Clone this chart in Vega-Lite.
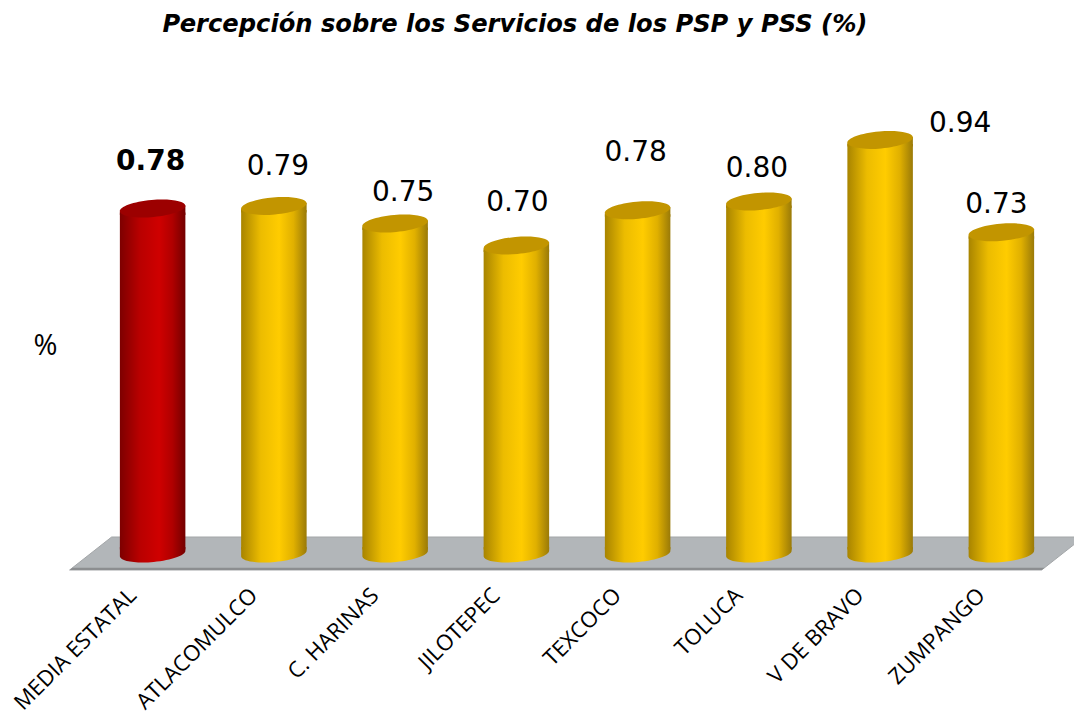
{
"$schema":"https://vega.github.io/schema/vega-lite/v6.json",
"width":970,"height":440,
"autosize":{"type":"none"},
"padding":{"left":92,"top":113.5,"right":12,"bottom":163.5},
"background":"white",
"view":{"stroke":null},
"title":{"text":"Percepción sobre los Servicios de los PSP y PSS (%)","anchor":"middle","frame":"group","dx":-62,"offset":73,"font":"DejaVu Sans","fontSize":24.2,"fontWeight":"bold","fontStyle":"italic","color":"#000000"},
"data":{"values":[
{"municipio":"MEDIA ESTATAL","valor":0.784,"grupo":"media"},
{"municipio":"ATLACOMULCO","valor":0.79,"grupo":"region"},
{"municipio":"C. HARINAS","valor":0.75,"grupo":"region"},
{"municipio":"JILOTEPEC","valor":0.70,"grupo":"region"},
{"municipio":"TEXCOCO","valor":0.78,"grupo":"region"},
{"municipio":"TOLUCA","valor":0.80,"grupo":"region"},
{"municipio":"V DE BRAVO","valor":0.94,"grupo":"region"},
{"municipio":"ZUMPANGO","valor":0.73,"grupo":"region"}
]},
"encoding":{
"x":{"field":"municipio","type":"nominal","scale":{"domain":["MEDIA ESTATAL","ATLACOMULCO","C. HARINAS","JILOTEPEC","TEXCOCO","TOLUCA","V DE BRAVO","ZUMPANGO"],"paddingInner":0,"paddingOuter":0},"axis":{"title":null,"domain":false,"ticks":false,"labelAngle":-45,"labelAlign":"right","labelBaseline":"middle","labelFont":"Open Sans","labelFontSize":22,"labelColor":"#000000","labelPadding":38,"labelOffset":-20}},
"y":{"field":"valor","type":"quantitative","scale":{"domain":[0,1]},"axis":{"title":"%","titleAngle":0,"titleX":-47,"titleY":247,"titleFont":"Open Sans","titleFontSize":29,"titleFontWeight":"normal","titleColor":"#000000","domain":false,"ticks":false,"labels":false,"grid":false}}
},
"layer":[
{"transform":[{"filter":"datum.municipio=='TEXCOCO'"}],
 "mark":{"type":"point","filled":true,"opacity":1,"size":4,"fill":"#b2b6b9","stroke":"#a3a6a8","strokeWidth":1,"shape":"M-568,16.5 L404,16.5 L446,-16.5 L-526,-16.5 Z"},
 "encoding":{"y":{"datum":0}}},
{"transform":[{"filter":"datum.municipio=='TEXCOCO'"}],
 "mark":{"type":"point","filled":true,"opacity":1,"size":4,"fill":"#8c8e90","strokeWidth":0,"shape":"M-568,16.5 L404,16.5 L407,14.2 L-565,14.2 Z"},
 "encoding":{"y":{"datum":0}}},
{"mark":{"type":"bar","width":65.5,"yOffset":4,"y2Offset":-4},
 "encoding":{"y2":{"datum":0},
  "fill":{"condition":{"test":"datum.grupo=='media'","value":{"gradient":"linear","x1":0,"x2":1,"y1":0,"y2":0,"stops":[{"offset":0,"color":"#7d0000"},{"offset":0.3,"color":"#b80000"},{"offset":0.6,"color":"#cf0000"},{"offset":0.8,"color":"#b00000"},{"offset":1,"color":"#730000"}]}},
   "value":{"gradient":"linear","x1":0,"x2":1,"y1":0,"y2":0,"stops":[{"offset":0,"color":"#a88400"},{"offset":0.3,"color":"#ecbc00"},{"offset":0.58,"color":"#ffcc00"},{"offset":0.8,"color":"#e0b000"},{"offset":1,"color":"#9a7a08"}]}}}},
{"mark":{"type":"point","filled":true,"opacity":1,"size":4290,"strokeWidth":0,"shape":"M-1,0.09 L1,-0.09 L1,0.2 L-1,0.2 Z"},
 "encoding":{
  "fill":{"condition":{"test":"datum.grupo=='media'","value":{"gradient":"linear","x1":0,"x2":1,"y1":0,"y2":0,"stops":[{"offset":0,"color":"#7d0000"},{"offset":0.3,"color":"#b80000"},{"offset":0.6,"color":"#cf0000"},{"offset":0.8,"color":"#b00000"},{"offset":1,"color":"#730000"}]}},
   "value":{"gradient":"linear","x1":0,"x2":1,"y1":0,"y2":0,"stops":[{"offset":0,"color":"#a88400"},{"offset":0.3,"color":"#ecbc00"},{"offset":0.58,"color":"#ffcc00"},{"offset":0.8,"color":"#e0b000"},{"offset":1,"color":"#9a7a08"}]}}}},
{"mark":{"type":"point","filled":true,"opacity":1,"size":4290,"strokeWidth":0,"shape":"M-1,0.09 L-1,-0.2 L1,-0.2 L1,-0.09 A1,0.26 -5 1 1 -1,0.09 Z"},
 "encoding":{"y":{"datum":0},
  "fill":{"condition":{"test":"datum.grupo=='media'","value":{"gradient":"linear","x1":0,"x2":1,"y1":0,"y2":0,"stops":[{"offset":0,"color":"#7d0000"},{"offset":0.3,"color":"#b80000"},{"offset":0.6,"color":"#cf0000"},{"offset":0.8,"color":"#b00000"},{"offset":1,"color":"#730000"}]}},
   "value":{"gradient":"linear","x1":0,"x2":1,"y1":0,"y2":0,"stops":[{"offset":0,"color":"#a88400"},{"offset":0.3,"color":"#ecbc00"},{"offset":0.58,"color":"#ffcc00"},{"offset":0.8,"color":"#e0b000"},{"offset":1,"color":"#9a7a08"}]}}}},
{"mark":{"type":"point","filled":true,"opacity":1,"size":4290,"strokeWidth":0,"shape":"M-1,0.09 A1,0.26 -5 1 1 1,-0.09 A1,0.26 -5 1 1 -1,0.09 Z"},
 "encoding":{
  "fill":{"condition":{"test":"datum.grupo=='media'","value":"#9c0000"},"value":"#c29500"}}},
{"transform":[{"filter":"datum.grupo=='media'"}],
 "mark":{"type":"text","font":"DejaVu Sans","fontSize":28,"fontWeight":"bold","color":"#000000","baseline":"middle","dx":-2,"dy":-47},
 "encoding":{"text":{"field":"valor","type":"quantitative","format":".2f"}}},
{"transform":[{"filter":"datum.municipio=='ATLACOMULCO'"}],
 "mark":{"type":"text","font":"DejaVu Sans","fontSize":28,"color":"#000000","baseline":"middle","dx":4,"dy":-39},
 "encoding":{"text":{"field":"valor","type":"quantitative","format":".2f"}}},
{"transform":[{"filter":"datum.municipio=='C. HARINAS'"}],
 "mark":{"type":"text","font":"DejaVu Sans","fontSize":28,"color":"#000000","baseline":"middle","dx":8,"dy":-30.5},
 "encoding":{"text":{"field":"valor","type":"quantitative","format":".2f"}}},
{"transform":[{"filter":"datum.municipio=='JILOTEPEC'"}],
 "mark":{"type":"text","font":"DejaVu Sans","fontSize":28,"color":"#000000","baseline":"middle","dx":1,"dy":-42.5},
 "encoding":{"text":{"field":"valor","type":"quantitative","format":".2f"}}},
{"transform":[{"filter":"datum.municipio=='TEXCOCO'"}],
 "mark":{"type":"text","font":"DejaVu Sans","fontSize":28,"color":"#000000","baseline":"middle","dx":-2,"dy":-57.5},
 "encoding":{"text":{"field":"valor","type":"quantitative","format":".2f"}}},
{"transform":[{"filter":"datum.municipio=='TOLUCA'"}],
 "mark":{"type":"text","font":"DejaVu Sans","fontSize":28,"color":"#000000","baseline":"middle","dx":-2,"dy":-32.5},
 "encoding":{"text":{"field":"valor","type":"quantitative","format":".2f"}}},
{"transform":[{"filter":"datum.municipio=='V DE BRAVO'"}],
 "mark":{"type":"text","font":"DejaVu Sans","fontSize":28,"color":"#000000","baseline":"middle","dx":80,"dy":-16},
 "encoding":{"text":{"field":"valor","type":"quantitative","format":".2f"}}},
{"transform":[{"filter":"datum.municipio=='ZUMPANGO'"}],
 "mark":{"type":"text","font":"DejaVu Sans","fontSize":28,"color":"#000000","baseline":"middle","dx":-5,"dy":-27.5},
 "encoding":{"text":{"field":"valor","type":"quantitative","format":".2f"}}}
]
}
